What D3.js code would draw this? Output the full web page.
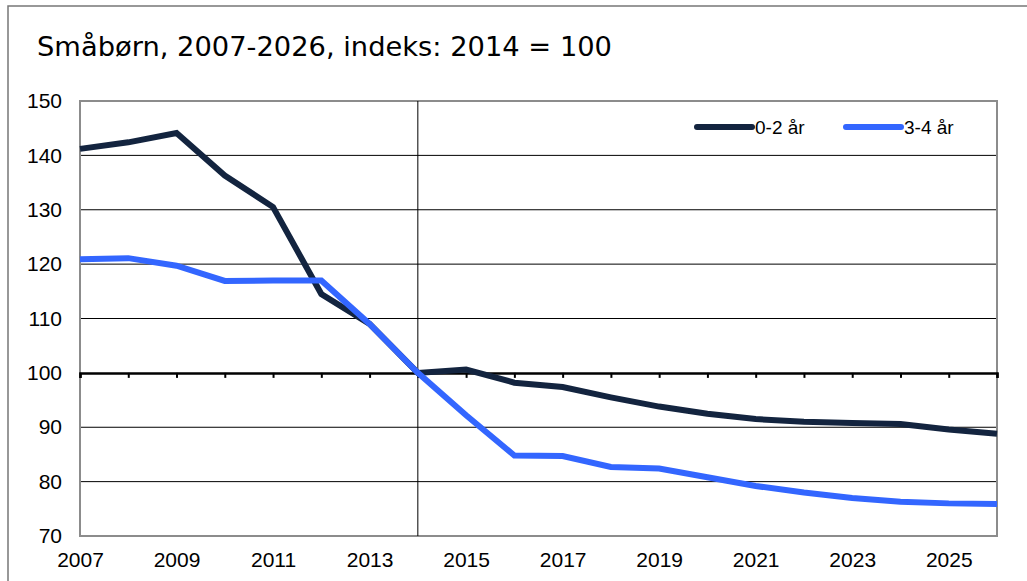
<!DOCTYPE html>
<html>
<head>
<meta charset="utf-8">
<script src="https://cdn.jsdelivr.net/npm/d3@7"></script>
<style>
  body { margin: 0; background: #fff; }
  text { font-family: "Liberation Sans", Arial, sans-serif; }
</style>
</head>
<body>
<script>
var years = d3.range(2007, 2027);
var yearLabels = [2007, 2009, 2011, 2013, 2015, 2017, 2019, 2021, 2023, 2025];
var yTicks = [70, 80, 90, 100, 110, 120, 130, 140, 150];
var small02 = [141.2, 142.4, 144.1, 136.3, 130.5, 114.5, 109.0, 100.0, 100.6, 98.2,
               97.4, 95.5, 93.8, 92.5, 91.5, 91.0, 90.8, 90.6, 89.6, 88.8];
var small34 = [120.9, 121.1, 119.7, 116.9, 117.0, 117.0, 109.0, 100.0, 92.2, 84.8,
               84.7, 82.7, 82.4, 80.8, 79.2, 78.0, 77.0, 76.3, 76.0, 75.9];
var seriesNames = ["0-2 år", "3-4 år"];
var colors = ["#13243f", "#3366ff"];

var svg = d3.select("body").append("svg")
  .attr("width", 1027)
  .attr("height", 581);

// outer frame (only top and left visible)
svg.append("path")
  .attr("d", "M8,600V6H1030")
  .attr("fill", "none")
  .attr("stroke", "#777")
  .attr("stroke-width", 1.5);

svg.append("text")
  .attr("x", 37).attr("y", 56)
  .style("font-family", "'DejaVu Sans', Verdana, sans-serif")
  .style("font-size", "27px")
  .attr("textLength", 575)
  .attr("lengthAdjust", "spacingAndGlyphs")
  .text("Småbørn, 2007-2026, indeks: 2014 = 100");

var x = d3.scaleLinear().domain([2007, 2026]).range([80, 997]);
var y = d3.scaleLinear().domain([70, 150]).range([536, 101]);

// gridlines
svg.append("g").selectAll("line")
  .data(yTicks.filter(function(d) { return d != 70 && d != 150 && d != 100; }))
  .enter().append("line")
    .attr("x1", x(2007)).attr("x2", x(2026))
    .attr("y1", function(d) { return y(d); })
    .attr("y2", function(d) { return y(d); })
    .attr("stroke", "#000")
    .attr("stroke-width", 1);

// plot frame
svg.append("rect")
  .attr("x", x(2007)).attr("y", y(150))
  .attr("width", x(2026) - x(2007)).attr("height", y(70) - y(150))
  .attr("fill", "none")
  .attr("stroke", "#8c8c8c")
  .attr("stroke-width", 2);

// vertical axis line at 2014
svg.append("line")
  .attr("x1", x(2014)).attr("x2", x(2014))
  .attr("y1", y(150)).attr("y2", y(70))
  .attr("stroke", "#000")
  .attr("stroke-width", 1);

// x axis along 100, with ticks
var xAxis = d3.axisBottom(x)
  .tickValues(years)
  .tickSize(5)
  .tickFormat("");
var xg = svg.append("g")
  .attr("transform", "translate(0," + y(100) + ")")
  .call(xAxis);
xg.select(".domain").attr("stroke", "#000").attr("stroke-width", 2.5);
xg.selectAll(".tick line").attr("stroke", "#000").attr("stroke-width", 2);

// y labels
var yAxis = d3.axisLeft(y).tickValues(yTicks).tickSize(0).tickPadding(18);
var yg = svg.append("g")
  .attr("transform", "translate(80,0)")
  .call(yAxis);
yg.select(".domain").remove();
yg.selectAll("text")
  .style("font-family", "'Liberation Sans', Arial, sans-serif")
  .style("font-size", "21px")
  .attr("fill", "#000");

// x labels
var xl = d3.axisBottom(x).tickValues(yearLabels).tickSize(0).tickPadding(16)
  .tickFormat(d3.format("d"));
var xlg = svg.append("g")
  .attr("transform", "translate(0," + y(70) + ")")
  .call(xl);
xlg.select(".domain").remove();
xlg.selectAll("text")
  .style("font-family", "'Liberation Sans', Arial, sans-serif")
  .style("font-size", "21px")
  .attr("fill", "#000");

// lines
var line = d3.line()
  .x(function(d, i) { return x(years[i]); })
  .y(function(d) { return y(d); });

[small02, small34].forEach(function(s, i) {
  svg.append("path")
    .datum(s)
    .attr("d", line)
    .attr("fill", "none")
    .attr("stroke", colors[i])
    .attr("stroke-width", 6)
    .attr("stroke-linejoin", "miter");
});

// legend
var legX = [697, 846];
seriesNames.forEach(function(n, i) {
  var g = svg.append("g").attr("transform", "translate(" + legX[i] + ",127)");
  g.append("line")
    .attr("x1", 0).attr("x2", 55)
    .attr("stroke", colors[i])
    .attr("stroke-width", 6)
    .attr("stroke-linecap", "round");
  g.append("text")
    .attr("x", 58).attr("y", 7)
    .style("font-size", "19px")
    .text(n);
});
</script>
</body>
</html>
